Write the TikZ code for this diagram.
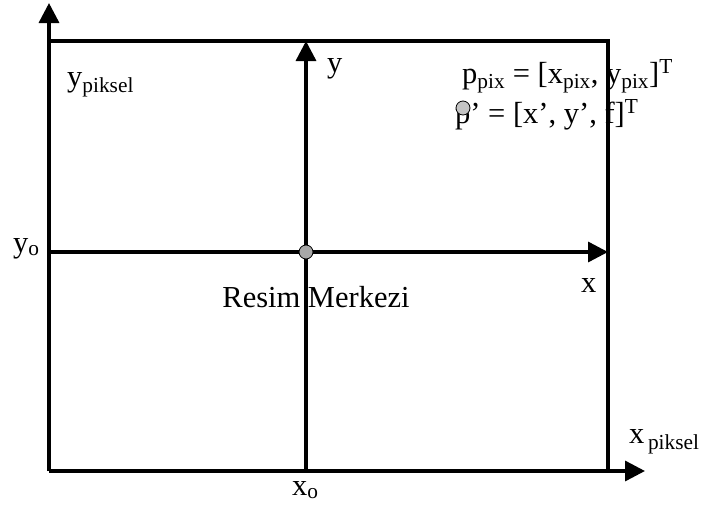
\documentclass[tikz,border=0pt]{standalone}
\usepackage{fontspec}
\setmainfont{Liberation Serif}
\usetikzlibrary{arrows.meta,positioning}
\definecolor{dotgray}{HTML}{A8A8A8}
\definecolor{dotlight}{HTML}{C4C4C4}

\begin{document}
\begin{tikzpicture}[x=1pt,y=-1pt,
  axis/.style={line width=3.4pt,-{Triangle[length=20pt,width=20pt]}},
  frame/.style={line width=3.4pt},
  lbl/.style={anchor=base west,inner sep=0pt,font=\fontsize{30.5}{36}\selectfont},
  dot/.style={circle,draw,line width=0.8pt,fill=#1,minimum size=14pt,inner sep=0pt},
]
  \useasboundingbox (0,0) rectangle (704,506);
  % corners and axis ends
  \coordinate (O) at (49,471);
  \coordinate (tl) at (49,41);
  \coordinate (tr) at (608,41);
  \coordinate (br) at (608,471);
  \coordinate (ytip) at (49,3);
  \coordinate (xtip) at (645,471);
  \coordinate (cbot) at (306,471);
  \coordinate (ctop) at (306,41);
  \coordinate (mleft) at (49,252);
  \coordinate (mright) at (608,252);
  % frame and axes
  \draw[frame] (tl) -- (tr) -- (br);
  \draw[axis] (O) -- (ytip);
  \draw[axis] (O) -- (xtip);
  \draw[axis] (cbot) -- (ctop);
  \draw[axis] (mleft) -- (mright);
  \node[dot=dotgray] (center) at (306,252) {};
  % labels
  \node[lbl] (ypiksel) at (67,86) {y\textsubscript{piksel}};
  \node[lbl] (ylab) at (327,72) {y};
  \node[lbl] (ppix) at (462,83) {p\textsubscript{pix} = [x\textsubscript{pix}, y\textsubscript{pix}]\textsuperscript{T}};
  \node[lbl] (pprime) at (455,123) {p’ = [x’, y’, f]\textsuperscript{T}};
  \node[lbl] (yo) at (13,252) {y\textsubscript{o}};
  \node[lbl] (xlab) at (581,292) {x};
  \node[lbl,anchor=base] (merkez) at (316,307) {Resim Merkezi};
  \node[lbl] (xo) at (292,495) {x\textsubscript{o}};
  \node[lbl] (xpiksel) at (629,443) {x\textsubscript{\,piksel}};
  \node[dot=dotlight] (pdot) at (463,108) {};
\end{tikzpicture}
\end{document}
